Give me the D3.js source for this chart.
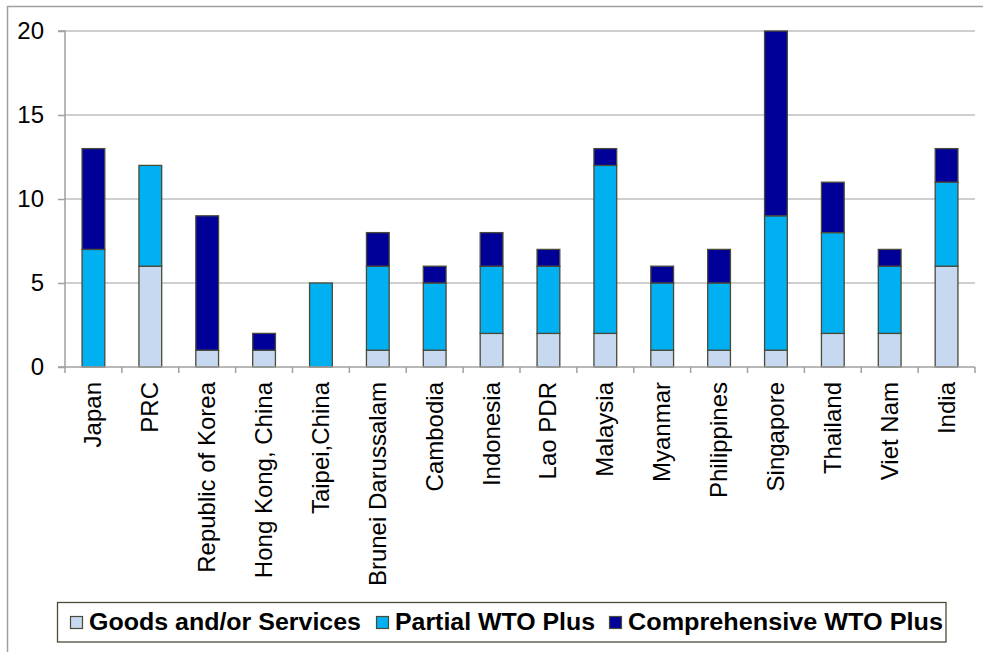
<!DOCTYPE html>
<html>
  <head>
    <meta charset="utf-8">
    <title>WTO plus agreements by economy</title>
    <script src="https://d3js.org/d3.v7.min.js"></script>
    <style>
      body { margin: 0; background: #fff; }
      svg { display: block; font-family: "Liberation Sans", Arial, sans-serif; }
    </style>
  </head>
  <body>
    <svg id="chart" width="983" height="652"></svg>
    <script>
      // data
      const economies = ["Japan", "PRC", "Republic of Korea", "Hong Kong, China", "Taipei,China",
        "Brunei Darussalam", "Cambodia", "Indonesia", "Lao PDR", "Malaysia", "Myanmar",
        "Philippines", "Singapore", "Thailand", "Viet Nam", "India"];
      const goodsServices = [0, 6, 1, 1, 0, 1, 1, 2, 2, 2, 1, 1, 1, 2, 2, 6];
      const partialWTO = [7, 6, 0, 0, 5, 5, 4, 4, 4, 10, 4, 4, 8, 6, 4, 5];
      const comprehensiveWTO = [6, 0, 8, 1, 0, 2, 1, 2, 1, 1, 1, 2, 11, 3, 1, 2];
      const seriesNames = ["Goods and/or Services", "Partial WTO Plus", "Comprehensive WTO Plus"];
      const yTicks = [0, 5, 10, 15, 20];

      const colours = ["#c6d9f0", "#00b0f0", "#000099"];
      const rows = economies.map(function(e, i) {
        return { name: e, s0: goodsServices[i], s1: partialWTO[i], s2: comprehensiveWTO[i] };
      });
      const stacked = d3.stack().keys(["s0", "s1", "s2"])(rows);

      const margin = { top: 31, right: 8, bottom: 285, left: 65 };
      const width = 983, height = 652;
      const svg = d3.select("#chart");

      // outer frame (only left and top edges visible)
      svg.append("path")
        .attr("d", "M7.5," + height + "V6.5H" + width)
        .attr("fill", "none")
        .attr("stroke", "#a0a0a0")
        .attr("stroke-width", 1.5);

      const x = d3.scaleBand()
        .domain(economies)
        .range([margin.left, 975])
        .paddingInner(0.6)
        .paddingOuter(0.3);
      const y = d3.scaleLinear()
        .domain([0, 20])
        .range([367, margin.top]);

      // gridlines
      svg.append("g")
        .selectAll("line")
        .data(yTicks.filter(function(d) { return d > 0; }))
        .enter().append("line")
          .attr("x1", margin.left)
          .attr("x2", 975)
          .attr("y1", function(d) { return y(d); })
          .attr("y2", function(d) { return y(d); })
          .attr("stroke", "#a0a0a0")
          .attr("stroke-width", 1.2);

      // bars
      svg.append("g")
        .selectAll("g")
        .data(stacked)
        .enter().append("g")
          .attr("fill", function(d, i) { return colours[i]; })
        .selectAll("rect")
        .data(function(d) { return d.filter(function(p) { return p[1] > p[0]; }); })
        .enter().append("rect")
          .attr("x", function(d) { return x(d.data.name); })
          .attr("width", x.bandwidth())
          .attr("y", function(d) { return y(d[1]); })
          .attr("height", function(d) { return y(d[0]) - y(d[1]); })
          .attr("stroke", "#4a4a38")
          .attr("stroke-width", 1.3);

      // y axis
      const yAxis = d3.axisLeft(y)
        .tickValues(yTicks)
        .tickSize(7)
        .tickPadding(14)
        .tickFormat(d3.format("d"));
      const yg = svg.append("g")
        .attr("transform", "translate(" + margin.left + ",0)")
        .call(yAxis);
      yg.selectAll("line, path").attr("stroke", "#a0a0a0").attr("stroke-width", 1.5);
      yg.select(".domain").attr("d", "M-7," + y(0) + "H0V" + y(20) + "H-7");
      yg.selectAll("text")
        .attr("fill", "#000")
        .style("font-size", "24px");

      // x axis: ticks between categories
      const tickPos = d3.range(economies.length + 1).map(function(i) {
        return margin.left + i * (975 - margin.left) / economies.length;
      });
      svg.append("line")
        .attr("x1", margin.left).attr("x2", 975)
        .attr("y1", y(0)).attr("y2", y(0))
        .attr("stroke", "#a0a0a0").attr("stroke-width", 1.5);
      svg.append("g")
        .selectAll("line")
        .data(tickPos)
        .enter().append("line")
          .attr("x1", function(d) { return d; })
          .attr("x2", function(d) { return d; })
          .attr("y1", y(0))
          .attr("y2", y(0) + 6)
          .attr("stroke", "#a0a0a0")
          .attr("stroke-width", 1.5);
      svg.append("g")
        .selectAll("text")
        .data(economies)
        .enter().append("text")
          .attr("transform", function(d) {
            return "translate(" + (x(d) + x.bandwidth() / 2 + 8) + "," + 382 + ") rotate(-90)";
          })
          .attr("text-anchor", "end")
          .style("font-size", "24px")
          .text(function(d) { return d; });

      // legend
      const legend = svg.append("g");
      legend.append("rect")
        .attr("x", 57.5).attr("y", 602.5)
        .attr("width", 888.5).attr("height", 39.5)
        .attr("fill", "#fff")
        .attr("stroke", "#4a4a38")
        .attr("stroke-width", 1.3);
      const legendX = [70, 376, 609];
      const legendW = [272, 200, 315];
      seriesNames.forEach(function(name, i) {
        legend.append("rect")
          .attr("x", legendX[i] + 0.5).attr("y", 616.5)
          .attr("width", 12).attr("height", 12)
          .attr("fill", colours[i])
          .attr("stroke", "#4a4a38")
          .attr("stroke-width", 1.2);
        legend.append("text")
          .attr("x", legendX[i] + 19)
          .attr("y", 630)
          .attr("textLength", legendW[i])
          .attr("lengthAdjust", "spacingAndGlyphs")
          .style("font-size", "23px")
          .style("font-weight", "bold")
          .text(name);
      });
    </script>
  </body>
</html>
